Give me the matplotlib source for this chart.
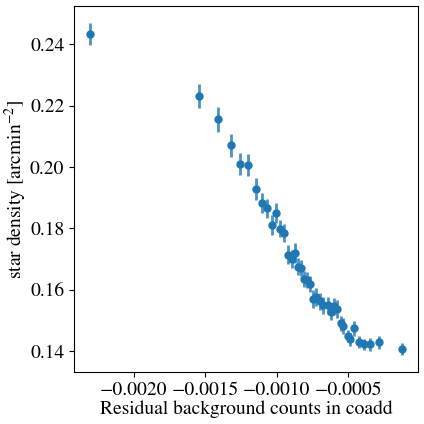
import matplotlib
matplotlib.use("Agg")
import matplotlib.pyplot as plt

plt.rcParams['font.family'] = ['STIXGeneral', 'Liberation Serif', 'DejaVu Serif']
plt.rcParams['mathtext.fontset'] = 'stix'
plt.rcParams['font.size'] = 14

# residual background counts (x), star density (y) and its error
resid = [-0.002307, -0.001543, -0.001410, -0.001320, -0.001257, -0.001200,
         -0.001144, -0.001102, -0.001067, -0.001032, -0.001004, -0.000976,
         -0.000948, -0.000919, -0.000896, -0.000871, -0.000849, -0.000828,
         -0.000808, -0.000787, -0.000767, -0.000744, -0.000723, -0.000698,
         -0.000674, -0.000642, -0.000620, -0.000598, -0.000577, -0.000553,
         -0.000535, -0.000504, -0.000488, -0.000459, -0.000423, -0.000389,
         -0.000347, -0.000284, -0.000122]
density = [0.2435, 0.2232, 0.2156, 0.2071, 0.2009, 0.2006,
           0.1930, 0.1884, 0.1865, 0.1810, 0.1851, 0.1799,
           0.1786, 0.1714, 0.1701, 0.1720, 0.1675, 0.1671,
           0.1635, 0.1632, 0.1619, 0.1570, 0.1577, 0.1562,
           0.1550, 0.1550, 0.1528, 0.1546, 0.1537, 0.1490,
           0.1481, 0.1449, 0.1438, 0.1474, 0.1429, 0.1422,
           0.1422, 0.1429, 0.1406]
density_err = [0.0036, 0.0039, 0.0040, 0.0037, 0.0036, 0.0036,
               0.0036, 0.0033, 0.0032, 0.0033, 0.0033, 0.0028,
               0.0029, 0.0031, 0.0030, 0.0033, 0.0027, 0.0027,
               0.0027, 0.0027, 0.0027, 0.0029, 0.0029, 0.0028,
               0.0028, 0.0028, 0.0028, 0.0028, 0.0028, 0.0026,
               0.0026, 0.0020, 0.0020, 0.0024, 0.0020, 0.0019,
               0.0022, 0.0021, 0.0020]

fig, ax = plt.subplots(figsize=(4.24, 4.24), dpi=100)
fig.subplots_adjust(left=0.1745, right=0.9858, top=0.9858, bottom=0.1226)

ax.errorbar(resid, density, yerr=density_err, fmt='o', ms=5,
            color='#1f77b4', ecolor=(0.12, 0.47, 0.71, 0.8), elinewidth=2)

ax.set_xticks([-0.002, -0.0015, -0.001, -0.0005])
ax.set_xlabel('Residual background counts in coadd', labelpad=1)
ax.set_ylabel('star density [arcmin$^{-2}$]', labelpad=1)

fig.savefig('out.png', dpi=100)
